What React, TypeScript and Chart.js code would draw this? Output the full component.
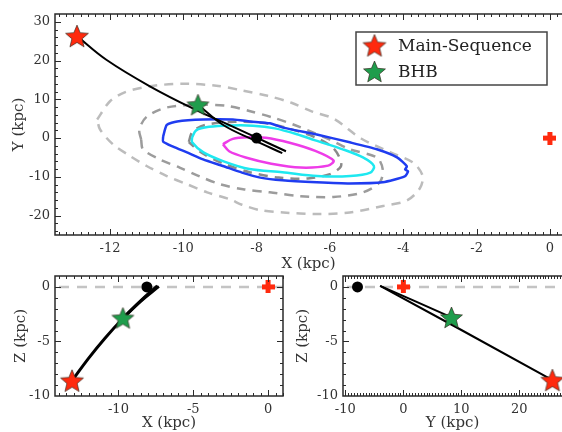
import { useEffect, useRef } from "react";
import { Chart, registerables } from "chart.js";
Chart.register(...registerables);

const FONT = "'DejaVu Serif', 'Liberation Serif', serif";

type P = [number, number];

// ---------- tick labels ----------
const xyXTicks = [-12, -10, -8, -6, -4, -2, 0];
const xyYTicks = [-20, -10, 0, 10, 20, 30];
const xzXTicks = [-10, -5, 0];
const zTicks = [-10, -5, 0];
const yzXTicks = [-10, 0, 10, 20];

// ---------- legend ----------
const seriesNames = ["Main-Sequence", "BHB"];

// ---------- X-Y panel ----------
const contourMagenta: P[] = [
  [-8.92, -1.6], [-8.65, -0.2], [-8.2, 0.2], [-7.75, 0.1], [-7.1, -1.2], [-6.4, -3.3],
  [-5.9, -5.8], [-6.05, -7.1], [-6.8, -7.6], [-7.6, -6.6], [-8.3, -5.0], [-8.75, -3.4], [-8.92, -1.6],
];
const contourCyan: P[] = [
  [-9.76, 0.2], [-9.65, 2.0], [-9.3, 2.9], [-8.7, 3.25], [-8.1, 3.2], [-7.5, 2.5], [-6.9, 1.0],
  [-6.4, -0.6], [-5.65, -2.9], [-5.1, -5.0], [-4.8, -7.2], [-4.9, -8.9], [-5.45, -9.8],
  [-6.35, -9.8], [-7.3, -8.8], [-8.2, -8.0], [-8.9, -6.0], [-9.45, -3.7], [-9.76, -1.1], [-9.76, 0.2],
];
const contourBlue: P[] = [
  [-10.55, 0.4], [-10.45, 3.4], [-10.17, 4.3], [-9.46, 4.8], [-8.65, 4.8], [-8.18, 4.3],
  [-7.64, 3.8], [-7.28, 2.7], [-6.36, 0.9], [-5.46, -1.1], [-4.72, -2.9], [-4.17, -5.0],
  [-3.9, -7.3], [-3.95, -8.1], [-3.87, -8.6], [-3.96, -9.9], [-4.56, -11.4], [-5.46, -11.7],
  [-6.36, -11.4], [-7.3, -10.9], [-7.9, -10.2], [-8.4, -8.9], [-8.92, -7.2], [-9.46, -5.5],
  [-9.9, -3.7], [-10.28, -2.2], [-10.55, -0.9], [-10.55, 0.4],
];
const contourInner: P[] = [
  [-9.85, -1.0], [-9.75, 1.6], [-9.4, 3.4], [-8.6, 4.2], [-7.8, 3.9], [-7.1, 2.4], [-6.4, 0.2],
  [-5.95, -2.2], [-5.75, -4.8], [-5.7, -7.3], [-6.0, -9.3], [-6.6, -10.4], [-7.4, -10.2],
  [-8.2, -8.8], [-8.9, -6.6], [-9.5, -3.8], [-9.85, -1.0],
];
const contourMiddle: P[] = [
  [-11.15, -0.4], [-11.2, 2.2], [-11.0, 5.5], [-10.45, 7.9], [-9.55, 8.6], [-8.8, 8.3],
  [-8.2, 7.0], [-7.56, 5.3], [-7.0, 3.5], [-6.0, -0.4], [-5.46, -2.9], [-4.72, -5.0],
  [-4.56, -8.1], [-4.64, -11.4], [-5.1, -14.0], [-5.9, -15.2], [-6.8, -15.0], [-7.64, -14.0],
  [-8.37, -13.2], [-9.0, -11.9], [-9.55, -9.9], [-10.1, -7.6], [-10.64, -5.5], [-11.1, -2.9],
  [-11.15, -0.4],
];
const contourOuter: P[] = [
  [-12.35, 4.8], [-12.0, 9.5], [-11.6, 11.8], [-10.9, 13.4], [-10.0, 14.0], [-9.1, 13.5],
  [-8.4, 12.3], [-7.7, 10.9], [-7.05, 9.1], [-6.5, 6.9], [-5.9, 5.0], [-5.15, -0.1],
  [-4.33, -3.75], [-3.72, -6.4], [-3.47, -9.8], [-3.55, -13.0], [-3.9, -16.1], [-4.55, -17.5],
  [-5.46, -19.2], [-6.36, -19.6], [-7.27, -19.2], [-7.9, -18.6], [-8.4, -17.2], [-8.73, -15.8],
  [-9.35, -14.0], [-9.9, -11.9], [-10.45, -9.8], [-11.0, -7.2], [-11.45, -4.65], [-11.92, -1.6],
  [-12.27, 2.2], [-12.35, 4.8],
];
const orbitMsXY: P[] = [
  [-12.9, 26.3], [-12.1, 20.2], [-10.9, 13.3], [-9.6, 7.0], [-8.8, 3.6], [-8.0, 0.1], [-7.2, -3.4],
];
const orbitBhbXY: P[] = [[-9.6, 8.6], [-8.9, 3.3], [-8.1, -0.4], [-7.3, -3.9]];
const starMsXY: P[] = [[-12.9, 26.3]];
const starBhbXY: P[] = [[-9.6, 8.6]];
const sunXY: P[] = [[-8.0, 0.0]];
const gcXY: P[] = [[0, 0]];

// ---------- X-Z panel ----------
const orbitMsXZ: P[] = [[-13.1, -8.6], [-12.0, -6.55], [-10.9, -4.7], [-9.7, -2.9], [-8.5, -1.3], [-7.3, 0.05]];
const orbitBhbXZ: P[] = [[-9.7, -2.85], [-8.5, -1.25], [-7.4, 0.1]];
const starMsXZ: P[] = [[-13.1, -8.6]];
const starBhbXZ: P[] = [[-9.7, -2.85]];
const sunXZ: P[] = [[-8.1, 0.0]];
const gcXZ: P[] = [[0, 0]];

// ---------- Y-Z panel ----------
const orbitMsYZ: P[] = [[25.7, -8.55], [10.0, -3.95], [-4.0, 0.1]];
const orbitBhbYZ: P[] = [[8.3, -2.8], [2.0, -1.3], [-4.0, 0.1]];
const starMsYZ: P[] = [[25.7, -8.55]];
const starBhbYZ: P[] = [[8.3, -2.8]];
const sunYZ: P[] = [[-7.9, 0.0]];
const gcYZ: P[] = [[0, 0]];

const RED = "#ff2a0e";
const GREEN = "#1f9d4c";

function starCanvas(fill: string, r: number) {
  const s = Math.ceil(r * 2 + 4);
  const c = document.createElement("canvas");
  c.width = s;
  c.height = s;
  const ctx = c.getContext("2d")!;
  const cx = s / 2, cy = s / 2 + 1, ri = r * 0.45;
  ctx.beginPath();
  for (let i = 0; i < 10; i++) {
    const ang = -Math.PI / 2 + (i * Math.PI) / 5;
    const rr = i % 2 === 0 ? r : ri;
    ctx.lineTo(cx + rr * Math.cos(ang), cy + rr * Math.sin(ang));
  }
  ctx.closePath();
  ctx.fillStyle = fill;
  ctx.fill();
  ctx.strokeStyle = "rgba(50,40,30,0.85)";
  ctx.lineWidth = 0.8;
  ctx.stroke();
  return c;
}

function plusCanvas(color: string, size: number, thick: number) {
  const c = document.createElement("canvas");
  c.width = size;
  c.height = size;
  const ctx = c.getContext("2d")!;
  ctx.fillStyle = color;
  const o = (size - thick) / 2;
  ctx.fillRect(o, 0, thick, size);
  ctx.fillRect(0, o, size, thick);
  return c;
}

const toXY = (d: P[]) => d.map(([x, y]) => ({ x, y }));

function lineDs(d: P[], color: string, width: number, order: number, tension: number, dash?: number[]) {
  return {
    type: "scatter" as const,
    data: toXY(d),
    showLine: true,
    borderColor: color,
    backgroundColor: color,
    borderWidth: width,
    borderDash: dash || [],
    pointRadius: 0,
    tension,
    order,
    fill: false,
  };
}

function markerDs(d: P[], style: any, order: number) {
  return {
    type: "scatter" as const,
    data: toXY(d),
    showLine: false,
    pointStyle: style,
    pointRadius: 12,
    pointBackgroundColor: "#000",
    pointBorderColor: "#000",
    pointBorderWidth: 0,
    order,
    clip: false as any,
  };
}

function dotDs(d: P[]) {
  return {
    type: "scatter" as const,
    data: toXY(d),
    showLine: false,
    pointStyle: "circle",
    pointRadius: 5.5,
    pointBackgroundColor: "#000",
    pointBorderColor: "#000",
    pointBorderWidth: 0,
    order: 0,
    clip: false as any,
  };
}

function axis(
  axisId: "x" | "y",
  min: number,
  max: number,
  ticks: number[],
  title: string,
  size: number,
  titlePad: number,
  tickPad: number
) {
  return {
    type: "linear" as const,
    position: axisId === "x" ? "bottom" : "left",
    min,
    max,
    afterBuildTicks: (s: any) => {
      s.ticks = ticks.map((v) => ({ value: v }));
    },
    afterFit: (s: any) => {
      if (axisId === "x") s.height = size;
      else s.width = size;
      s.paddingLeft = 0;
      s.paddingRight = 0;
      s.paddingTop = 0;
      s.paddingBottom = 0;
    },
    grid: { display: false, drawTicks: false },
    border: { display: false },
    ticks: {
      font: { family: FONT, size: 13 },
      color: "#333",
      padding: tickPad,
      autoSkip: false,
      maxRotation: 0,
      callback: (v: any) => String(v),
    },
    title: {
      display: true,
      text: title,
      font: { family: FONT, size: 15, lineHeight: 1 },
      color: "#333",
      padding: { top: titlePad, bottom: titlePad },
    },
  };
}

const framePlugin = {
  id: "frame",
  afterDatasetsDraw(chart: any, _a: any, o: any) {
    const { ctx, chartArea: a, scales } = chart;
    const xs = scales.x, ys = scales.y;
    ctx.save();
    ctx.strokeStyle = "#2a2a2a";
    ctx.lineWidth = 1.5;
    ctx.beginPath();
    if (o.openRight) {
      ctx.moveTo(a.right + 3, a.top);
      ctx.lineTo(a.left, a.top);
      ctx.lineTo(a.left, a.bottom);
      ctx.lineTo(a.right + 3, a.bottom);
    } else {
      ctx.rect(a.left, a.top, a.right - a.left, a.bottom - a.top);
    }
    ctx.stroke();
    ctx.lineWidth = 1;
    ctx.beginPath();
    const near = (v: number, arr: number[]) => arr.some((m) => Math.abs(m - v) < 1e-6);
    const xv: [number, number][] = [];
    for (const v of o.xMajor) xv.push([v, 6]);
    const x0 = Math.ceil(xs.min / o.xMinor - 1e-9);
    for (let k = x0; k * o.xMinor <= xs.max + 1e-9; k++) {
      const v = +(k * o.xMinor).toFixed(6);
      if (!near(v, o.xMajor)) xv.push([v, 3]);
    }
    for (const [v, L] of xv) {
      const px = Math.round(xs.getPixelForValue(v)) + 0.5;
      if (px < a.left + 1 || px > a.right + 1) continue;
      ctx.moveTo(px, a.bottom);
      ctx.lineTo(px, a.bottom - L);
      ctx.moveTo(px, a.top);
      ctx.lineTo(px, a.top + L);
    }
    const yv: [number, number][] = [];
    for (const v of o.yMajor) yv.push([v, 6]);
    const y0 = Math.ceil(ys.min / o.yMinor - 1e-9);
    for (let k = y0; k * o.yMinor <= ys.max + 1e-9; k++) {
      const v = +(k * o.yMinor).toFixed(6);
      if (!near(v, o.yMajor)) yv.push([v, 3]);
    }
    for (const [v, L] of yv) {
      const py = Math.round(ys.getPixelForValue(v)) + 0.5;
      if (py < a.top + 1 || py > a.bottom - 1) continue;
      ctx.moveTo(a.left, py);
      ctx.lineTo(a.left + L, py);
      if (!o.openRight) {
        ctx.moveTo(a.right, py);
        ctx.lineTo(a.right - L, py);
      }
    }
    ctx.stroke();
    ctx.restore();
  },
};

const zeroLinePlugin = {
  id: "zeroLine",
  beforeDatasetsDraw(chart: any, _a: any, o: any) {
    if (!o || !o.show) return;
    const { ctx, chartArea: a, scales } = chart;
    const py = scales.y.getPixelForValue(0);
    ctx.save();
    ctx.strokeStyle = "#c4c4c4";
    ctx.lineWidth = 2.5;
    ctx.setLineDash([10, 8]);
    ctx.beginPath();
    ctx.moveTo(a.left + 4, py);
    ctx.lineTo(a.right, py);
    ctx.stroke();
    ctx.restore();
  },
};

export default function App() {
  const r1 = useRef<HTMLCanvasElement>(null);
  const r2 = useRef<HTMLCanvasElement>(null);
  const r3 = useRef<HTMLCanvasElement>(null);

  useEffect(() => {
    const redStar = starCanvas(RED, 12);
    const greenStar = starCanvas(GREEN, 11.5);
    const plus = plusCanvas(RED, 13, 5);

    const legendPlugin = {
      id: "boxLegend",
      afterDraw(chart: any) {
        const { ctx, chartArea: a } = chart;
        const w = 191, h = 53;
        const x0 = a.right - 15 - w, y0 = a.top + 18;
        ctx.save();
        ctx.fillStyle = "#fff";
        ctx.fillRect(x0, y0, w, h);
        ctx.strokeStyle = "#444";
        ctx.lineWidth = 1.5;
        ctx.strokeRect(x0, y0, w, h);
        const imgs = [redStar, greenStar];
        ctx.font = `17px ${FONT}`;
        ctx.fillStyle = "#222";
        ctx.textBaseline = "middle";
        seriesNames.forEach((name, i) => {
          const cy = y0 + 13.5 + i * 26;
          const im = imgs[i];
          ctx.drawImage(im, x0 + 18.5 - im.width / 2, cy - im.height / 2);
          ctx.fillText(name, x0 + 42, cy + 1);
        });
        ctx.restore();
      },
    };

    const base = (pad: any) => ({
      responsive: false,
      animation: false as const,
      maintainAspectRatio: false,
      layout: { padding: pad, autoPadding: false },
      events: [] as any[],
    });

    const c1 = new Chart(r1.current!, {
      type: "scatter",
      data: {
        datasets: [
          lineDs(contourOuter, "#bcbcbc", 2.5, 6, 0.3, [9, 7]),
          lineDs(contourMiddle, "#9c9c9c", 2.5, 5, 0.3, [9, 7]),
          lineDs(contourInner, "#8a8a8a", 2.5, 5, 0.3, [9, 7]),
          lineDs(contourBlue, "#1f3cf0", 2.5, 4, 0.2),
          lineDs(contourCyan, "#1ee8f0", 2.5, 4, 0.3),
          lineDs(contourMagenta, "#ee3ce8", 2.5, 4, 0.3),
          lineDs(orbitMsXY, "#000", 2, 2, 0.4),
          lineDs(orbitBhbXY, "#000", 2, 2, 0.4),
          dotDs(sunXY),
          markerDs(gcXY, plus, 0),
          markerDs(starMsXY, redStar, 0),
          markerDs(starBhbXY, greenStar, 0),
        ] as any,
      },
      options: {
        ...base({ top: 14, left: 0, right: 0, bottom: 0 }),
        scales: {
          x: axis("x", -13.5, 0.33, xyXTicks, "X (kpc)", 37, 0, 6),
          y: axis("y", -25, 32, xyYTicks, "Y (kpc)", 55, 12, 5),
        },
        plugins: {
          legend: { display: false },
          tooltip: { enabled: false },
          frame: { openRight: true, xMajor: xyXTicks, xMinor: 0.2, yMajor: xyYTicks, yMinor: 2 },
        } as any,
      } as any,
      plugins: [framePlugin, legendPlugin],
    });

    const c2 = new Chart(r2.current!, {
      type: "scatter",
      data: {
        datasets: [
          lineDs(orbitMsXZ, "#000", 3, 2, 0.4),
          lineDs(orbitBhbXZ, "#000", 3, 2, 0.4),
          dotDs(sunXZ),
          markerDs(gcXZ, plus, 0),
          markerDs(starMsXZ, redStar, 0),
          markerDs(starBhbXZ, greenStar, 0),
        ] as any,
      },
      options: {
        ...base({ top: 4, left: 0, right: 7, bottom: 0 }),
        scales: {
          x: axis("x", -14.24, 1.0, xzXTicks, "X (kpc)", 36, 1.5, 6),
          y: axis("y", -10, 1, zTicks, "Z (kpc)", 55, 14, 5),
        },
        plugins: {
          legend: { display: false },
          tooltip: { enabled: false },
          zeroLine: { show: true },
          frame: { openRight: false, xMajor: xzXTicks, xMinor: 0.5, yMajor: zTicks, yMinor: 1 },
        } as any,
      } as any,
      plugins: [framePlugin, zeroLinePlugin],
    });

    const c3 = new Chart(r3.current!, {
      type: "scatter",
      data: {
        datasets: [
          lineDs(orbitMsYZ, "#000", 2, 2, 0),
          lineDs(orbitBhbYZ, "#000", 2, 2, 0),
          dotDs(sunYZ),
          markerDs(gcYZ, plus, 0),
          markerDs(starMsYZ, redStar, 0),
          markerDs(starBhbYZ, greenStar, 0),
        ] as any,
      },
      options: {
        ...base({ top: 4, left: 0, right: 0, bottom: 0 }),
        scales: {
          x: axis("x", -10.4, 27.35, yzXTicks, "Y (kpc)", 36, 1.5, 6),
          y: axis("y", -10, 1, zTicks, "Z (kpc)", 53, 5.5, 5),
        },
        plugins: {
          legend: { display: false },
          tooltip: { enabled: false },
          zeroLine: { show: true },
          frame: { openRight: true, xMajor: yzXTicks, xMinor: 0.5, yMajor: zTicks, yMinor: 1 },
        } as any,
      } as any,
      plugins: [framePlugin, zeroLinePlugin],
    });

    return () => {
      c1.destroy();
      c2.destroy();
      c3.destroy();
    };
  }, []);

  return (
    <div style={{ position: "fixed", left: 0, top: 0, width: 562, height: 432, overflow: "hidden", background: "#fff" }}>
      <canvas ref={r1} width={562} height={272} style={{ position: "absolute", left: 0, top: 0 }} />
      <canvas ref={r2} width={290} height={160} style={{ position: "absolute", left: 0, top: 272 }} />
      <canvas ref={r3} width={272} height={160} style={{ position: "absolute", left: 290, top: 272 }} />
    </div>
  );
}
